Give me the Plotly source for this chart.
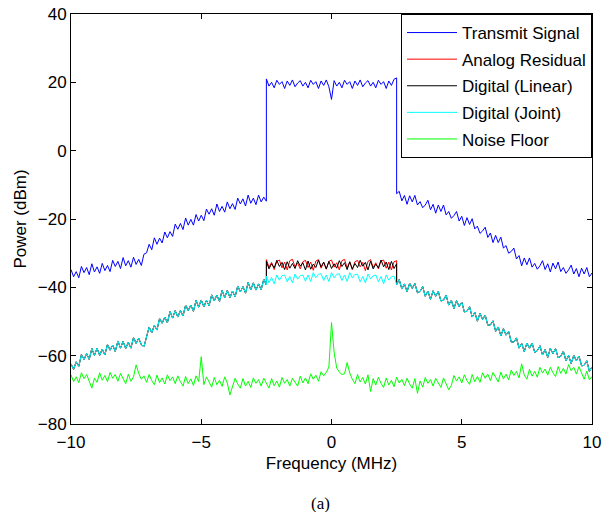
import plotly.graph_objects as go

# ---------------- data ----------------
# frequency grids (MHz): left skirt, occupied band, right skirt, full span
freq_left = [round(-10.0 + 0.1 * i, 1) for i in range(76)]   # -10.0 .. -2.5
freq_band = [round(-2.5 + 0.1 * i, 1) for i in range(51)]    # -2.5 .. 2.5
freq_right = [round(2.5 + 0.1 * i, 1) for i in range(76)]    # 2.5 .. 10.0
freq_all = [round(-10.0 + 0.1 * i, 1) for i in range(201)]   # -10.0 .. 10.0

# Transmit Signal (dBm)
tx_left = [-34.8, -36.9, -35.4, -37.2, -33.9, -35.7, -34.2, -36.3, -33.1, -35.5,
           -34.0, -35.9, -33.0, -35.1, -33.6, -35.4, -32.1, -33.9, -32.4, -34.5,
           -31.3, -33.7, -32.2, -34.1, -31.2, -33.3, -31.8, -33.6, -30.3, -29.9,
           -27.4, -29.0, -25.5, -27.4, -25.6, -27.0, -23.8, -25.5, -23.7, -25.1,
           -21.5, -23.0, -21.3, -23.1, -19.7, -21.8, -20.1, -21.8, -18.7, -20.6,
           -18.9, -20.5, -17.1, -18.6, -17.0, -18.9, -15.6, -17.8, -16.3, -18.0,
           -15.0, -17.0, -15.5, -17.2, -13.9, -15.6, -14.1, -16.2, -13.0, -15.4,
           -13.9, -15.8, -13.0, -15.0, -13.6, -14.8]
tx_band = [21.0, 18.9, 20.0, 18.4, 20.6, 19.4, 20.2, 18.2, 20.4, 19.1,
           20.7, 18.7, 19.8, 20.5, 18.9, 20.0, 18.4, 20.6, 19.4, 20.2,
           18.2, 20.4, 19.1, 20.7, 18.7, 15.0, 20.5, 18.9, 20.0, 18.4,
           20.6, 19.4, 20.2, 18.2, 20.4, 19.1, 20.7, 18.7, 19.8, 20.5,
           18.9, 20.0, 18.4, 20.6, 19.4, 20.2, 18.2, 20.4, 19.1, 20.9, 21.3]
tx_right = [-12.6, -11.9, -14.7, -13.1, -15.7, -13.2, -15.0, -13.1, -15.9, -14.9,
            -16.7, -15.9, -14.5, -17.3, -15.7, -18.3, -15.9, -17.8, -15.9, -18.8,
            -17.8, -19.8, -19.0, -17.8, -20.6, -19.2, -21.9, -19.6, -21.6, -19.9,
            -22.9, -22.1, -24.2, -23.5, -22.4, -25.4, -24.1, -26.9, -24.8, -26.9,
            -25.3, -28.5, -27.8, -30.0, -29.5, -28.5, -31.7, -30.7, -33.7, -31.4,
            -33.4, -31.4, -34.1, -33.0, -34.7, -33.7, -32.2, -34.8, -33.1, -35.5,
            -32.9, -34.6, -32.6, -35.4, -34.2, -35.9, -34.9, -33.5, -36.1, -34.5,
            -36.9, -34.4, -36.1, -34.2, -36.9, -35.8]

# out-of-band residual: analog, linear and joint curves overlap there
res_left = [-62.4, -64.0, -61.8, -63.1, -59.7, -61.1, -59.4, -61.1, -57.9, -59.9,
            -57.8, -59.9, -58.1, -59.8, -56.7, -58.4, -56.9, -58.8, -55.7, -57.8,
            -55.8, -57.9, -56.1, -57.8, -54.7, -56.4, -54.9, -56.8, -57.4, -54.7,
            -51.6, -53.3, -51.1, -52.5, -49.1, -50.5, -48.7, -50.4, -47.1, -49.0,
            -46.8, -48.7, -46.8, -48.4, -45.2, -46.8, -45.2, -47.0, -43.8, -45.8,
            -43.7, -45.7, -43.8, -45.4, -42.2, -43.9, -42.3, -44.1, -40.9, -43.0,
            -40.9, -43.0, -41.1, -42.8, -39.6, -41.3, -39.8, -41.7, -38.6, -40.7,
            -38.7, -40.8, -39.0, -40.7, -37.6, -39.3]
res_right = [-39.2, -37.7, -40.5, -39.0, -41.3, -38.8, -40.3, -38.9, -41.6, -41.2,
             -39.8, -42.6, -41.1, -43.5, -41.0, -42.6, -41.2, -44.0, -43.7, -42.3,
             -45.2, -43.8, -46.2, -43.9, -45.6, -44.3, -47.2, -47.0, -45.7, -48.7,
             -47.3, -49.9, -47.6, -49.4, -48.1, -51.1, -51.0, -49.8, -52.9, -51.6,
             -54.2, -52.1, -54.0, -52.9, -56.0, -56.0, -54.8, -57.8, -56.4, -58.8,
             -56.3, -57.8, -56.3, -59.0, -58.6, -57.1, -59.8, -58.2, -60.5, -57.9,
             -59.4, -57.9, -60.6, -60.2, -58.7, -61.5, -59.9, -62.3, -59.9, -61.5,
             -60.1, -63.0, -62.8, -61.5, -64.6, -63.3]

# in-band residuals (-2.5 .. 2.5 MHz)
analog_band = [-31.9, -34.1, -32.7, -34.8, -32.4, -32.0, -34.3, -32.6, -34.9, -32.2,
               -31.8, -34.0, -32.9, -34.6, -32.5, -32.1, -34.2, -32.6, -35.0, -32.3,
               -31.9, -34.4, -32.7, -34.7, -32.4, -32.0, -34.1, -32.8, -34.9, -32.2,
               -31.8, -34.3, -32.6, -34.8, -32.5, -32.1, -34.0, -32.7, -35.1, -32.4,
               -31.9, -34.2, -32.8, -34.6, -32.3, -32.0, -34.4, -32.6, -34.9, -32.5, -32.2]
linear_band = [-32.4, -34.6, -33.1, -34.3, -32.1, -33.9, -32.7, -34.8, -32.5, -34.4,
               -33.0, -34.5, -32.2, -33.8, -32.8, -34.9, -32.3, -34.7, -33.2, -34.2,
               -32.0, -34.0, -32.6, -34.6, -32.4, -34.5, -33.1, -34.4, -32.2, -33.9,
               -32.8, -34.8, -32.5, -34.7, -33.0, -34.2, -32.1, -33.8, -32.7, -34.9,
               -32.3, -34.6, -33.2, -34.3, -32.0, -34.0, -32.6, -34.8, -32.4, -34.5, -33.1]
joint_band = [-36.7, -38.7, -37.1, -39.0, -36.4, -37.9, -36.6, -36.4, -38.4, -36.8,
              -38.7, -36.1, -37.6, -36.6, -36.4, -38.2, -36.4, -38.3, -35.7, -37.2,
              -36.2, -36.0, -38.0, -36.4, -38.3, -35.7, -37.2, -36.2, -36.0, -38.0,
              -36.4, -38.3, -35.7, -37.2, -36.2, -36.2, -38.4, -36.8, -38.7, -36.1,
              -37.6, -36.6, -36.4, -38.4, -36.8, -39.0, -36.4, -37.9, -36.9, -36.7, -38.7]

# Noise Floor (-10 .. 10 MHz)
noise_floor = [-65.6, -67.6, -66.2, -67.9, -65.0, -66.7, -65.5, -67.3, -69.5, -66.6,
               -67.8, -65.0, -67.2, -65.8, -67.6, -64.9, -66.6, -65.5, -67.5, -65.2,
               -66.9, -68.2, -65.4, -67.5, -66.2, -62.7, -65.2, -66.9, -65.9, -67.8,
               -65.5, -67.3, -68.5, -65.7, -67.9, -66.5, -68.3, -65.6, -67.3, -66.2,
               -68.2, -65.9, -67.6, -68.9, -66.1, -68.2, -66.8, -68.7, -65.9, -67.6,
               -60.3, -68.5, -66.2, -67.9, -69.2, -66.4, -68.5, -67.2, -69.0, -66.2,
               -68.0, -71.5, -68.8, -66.6, -68.3, -69.5, -66.7, -68.9, -67.5, -69.3,
               -66.5, -68.1, -67.0, -68.9, -66.6, -68.3, -69.5, -66.7, -68.8, -67.4,
               -69.2, -66.4, -68.1, -67.0, -68.9, -66.6, -67.8, -68.9, -66.0, -68.0,
               -66.5, -68.2, -65.3, -66.9, -65.7, -67.5, -64.7, -65.9, -64.9, -63.3,
               -50.3, -59.0, -63.6, -64.8, -65.5, -65.3, -62.0, -65.1, -66.9, -68.2,
               -65.5, -67.7, -66.4, -68.3, -65.6, -70.5, -66.7, -68.6, -66.3, -68.1,
               -69.3, -66.5, -68.6, -67.2, -69.1, -66.3, -68.0, -66.9, -68.8, -66.6,
               -68.3, -69.5, -66.7, -71.0, -67.4, -69.2, -66.4, -68.1, -67.0, -68.9,
               -66.6, -68.2, -69.3, -66.5, -68.5, -70.0, -68.7, -65.8, -67.4, -66.2,
               -68.0, -65.6, -67.3, -68.4, -65.5, -67.6, -66.1, -67.8, -65.0, -66.6,
               -65.4, -67.3, -64.9, -66.5, -67.7, -64.8, -66.8, -65.4, -67.1, -64.2,
               -65.8, -64.6, -66.5, -62.4, -65.7, -66.9, -64.0, -66.0, -64.6, -66.3,
               -63.4, -65.1, -63.9, -65.7, -63.4, -65.0, -66.1, -63.2, -65.2, -63.7,
               -65.4, -62.6, -64.4, -63.4, -65.4, -63.2, -65.3, -66.9, -64.5, -67.1,
               -66.1]

series_names = ["Transmit Signal", "Analog Residual", "Digital (Linear)",
                "Digital (Joint)", "Noise Floor"]
series_colors = ["#0000ff", "#ff0000", "#000000", "#00ffff", "#00ff00"]

for arr, n in [(tx_left, 76), (tx_band, 51), (tx_right, 76), (res_left, 76),
               (res_right, 76), (analog_band, 51), (linear_band, 51),
               (joint_band, 51), (noise_floor, 201)]:
    assert len(arr) == n, (len(arr), n)

x_split = freq_left + freq_band + freq_right
series_y = [
    tx_left + tx_band + tx_right,
    res_left + analog_band + res_right,
    res_left + linear_band + res_right,
    res_left + joint_band + res_right,
]

FONT = "Liberation Sans, Arial, Helvetica, sans-serif"

fig = go.Figure()
for name, color, y in zip(series_names[:4], series_colors[:4], series_y):
    fig.add_trace(go.Scatter(x=x_split, y=y, mode="lines", name=name,
                             legendgroup=name,
                             line=dict(color=color, width=1)))
fig.add_trace(go.Scatter(x=freq_all, y=noise_floor, mode="lines",
                         name=series_names[4], legendgroup=series_names[4],
                         line=dict(color=series_colors[4], width=1)))

axis_common = dict(showline=True, linecolor="black", linewidth=1, mirror="ticks",
                   ticks="inside", ticklen=5, tickcolor="black", tickwidth=1,
                   showgrid=False, zeroline=False, ticklabeloverflow="allow",
                   tickfont=dict(family=FONT, size=17, color="black"))

fig.update_xaxes(range=[-10, 10], tickvals=[-10, -5, 0, 5, 10],
                 ticklabelstandoff=3,
                 title=dict(text="Frequency (MHz)",
                            font=dict(family=FONT, size=17, color="black"),
                            standoff=5),
                 **axis_common)
fig.update_yaxes(range=[-80, 40], tickvals=[-80, -60, -40, -20, 0, 20, 40],
                 title=dict(text="Power (dBm)",
                            font=dict(family=FONT, size=17, color="black"),
                            standoff=6),
                 **axis_common)

fig.add_annotation(text="(a)", xref="paper", yref="paper", x=0.478, y=-0.193,
                   xanchor="center", yanchor="middle", showarrow=False,
                   font=dict(family="Liberation Serif, Times New Roman, serif",
                             size=17, color="black"))

fig.update_layout(
    width=608, height=512,
    margin=dict(l=71, r=16, t=14, b=88, autoexpand=False),
    paper_bgcolor="white", plot_bgcolor="white",
    showlegend=True,
    legend=dict(x=1, y=1, xanchor="right", yanchor="top",
                bgcolor="white", bordercolor="black", borderwidth=1,
                font=dict(family=FONT, size=17, color="black"),
                itemwidth=50, tracegroupgap=1.5, traceorder="grouped"),
)

# remove the browser's default 8 px body margin so the figure fills the window
fig.write_html("out.html",
               config={"displayModeBar": False},
               post_script="document.body.style.margin='0';")
